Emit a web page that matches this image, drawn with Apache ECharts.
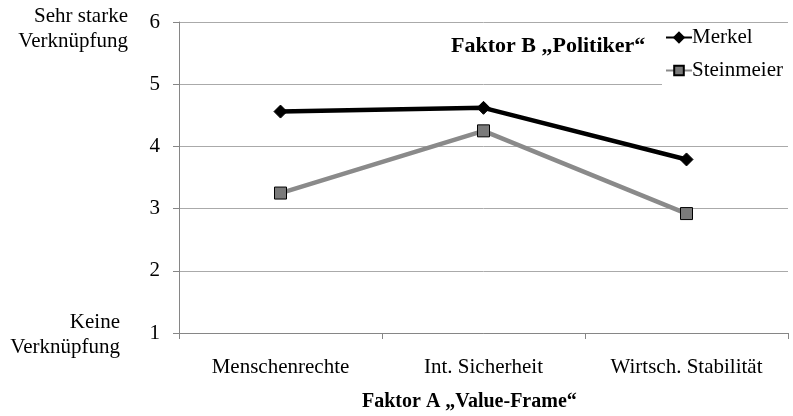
<!DOCTYPE html>
<html>
<head>
<meta charset="utf-8">
<script src="https://cdn.jsdelivr.net/npm/echarts@6/dist/echarts.min.js"></script>
<style>
  html, body { margin: 0; padding: 0; background: #fff; }
  #chart { width: 793px; height: 416px; }
</style>
</head>
<body>
<div id="chart"></div>
<script>
// Daten
const categories = ["Menschenrechte", "Int. Sicherheit", "Wirtsch. Stabilität"];
const merkel = [4.56, 4.62, 3.79];
const steinmeier = [3.25, 4.25, 2.92];
const yTicks = { min: 1, max: 6, interval: 1 };

const FONT = "Liberation Serif";
const chart = echarts.init(document.getElementById("chart"));

const option = {
  backgroundColor: "#fff",
  animation: false,
  textStyle: { fontFamily: FONT, color: "#000" },
  grid: { left: 179, right: 5, top: 22, bottom: 83 },
  legend: {
    orient: "vertical",
    left: 662,
    top: 24,
    padding: [3, 20, 10, 3],
    backgroundColor: "#fff",
    itemWidth: 26,
    itemHeight: 12,
    itemGap: 12,
    textStyle: { fontFamily: FONT, fontSize: 21, color: "#000", padding: [0, 0, 0, -5] },
    data: ["Merkel", "Steinmeier"],
  },
  xAxis: {
    type: "category",
    data: categories,
    boundaryGap: true,
    axisLine: { lineStyle: { color: "#868686", width: 1 } },
    axisTick: { show: true, length: 6, lineStyle: { color: "#868686" } },
    axisLabel: { fontFamily: FONT, fontSize: 21, color: "#000", margin: 24 },
  },
  yAxis: {
    type: "value",
    min: yTicks.min,
    max: yTicks.max,
    interval: yTicks.interval,
    axisLine: { show: true, lineStyle: { color: "#868686", width: 1 } },
    axisTick: { show: true, length: 6, lineStyle: { color: "#868686" } },
    axisLabel: { fontFamily: FONT, fontSize: 21, color: "#000", margin: 19 },
    splitLine: { lineStyle: { color: "#aaaaaa", width: 1 } },
  },
  series: [
    {
      name: "Merkel",
      type: "line",
      data: merkel,
      symbol: "diamond",
      symbolSize: 13,
      lineStyle: { color: "#000", width: 4.5 },
      itemStyle: { color: "#000", borderColor: "#000", borderWidth: 1 },
      z: 3,
    },
    {
      name: "Steinmeier",
      type: "line",
      data: steinmeier,
      symbol: "rect",
      symbolSize: 12,
      lineStyle: { color: "#8a8a8a", width: 4.5 },
      itemStyle: { color: "#7a7a7a", borderColor: "#000", borderWidth: 1 },
      z: 2,
    },
  ],
  graphic: [
    {
      type: "text",
      x: 128,
      y: 4,
      style: {
        text: "Sehr starke\nVerknüpfung",
        font: "21px " + FONT,
        fill: "#000",
        align: "right",
        lineHeight: 25,
      },
    },
    {
      type: "text",
      x: 120,
      y: 310,
      style: {
        text: "Keine\nVerknüpfung",
        font: "21px " + FONT,
        fill: "#000",
        align: "right",
        lineHeight: 25,
      },
    },
    {
      type: "text",
      x: 451,
      y: 35,
      style: {
        text: "Faktor B „Politiker“",
        font: "bold 22px " + FONT,
        fill: "#000",
      },
    },
    {
      type: "text",
      x: 362,
      y: 392,
      style: {
        text: "Faktor A „Value-Frame“",
        font: "bold 20px " + FONT,
        fill: "#000",
      },
    },
  ],
};

chart.setOption(option);
</script>
</body>
</html>
